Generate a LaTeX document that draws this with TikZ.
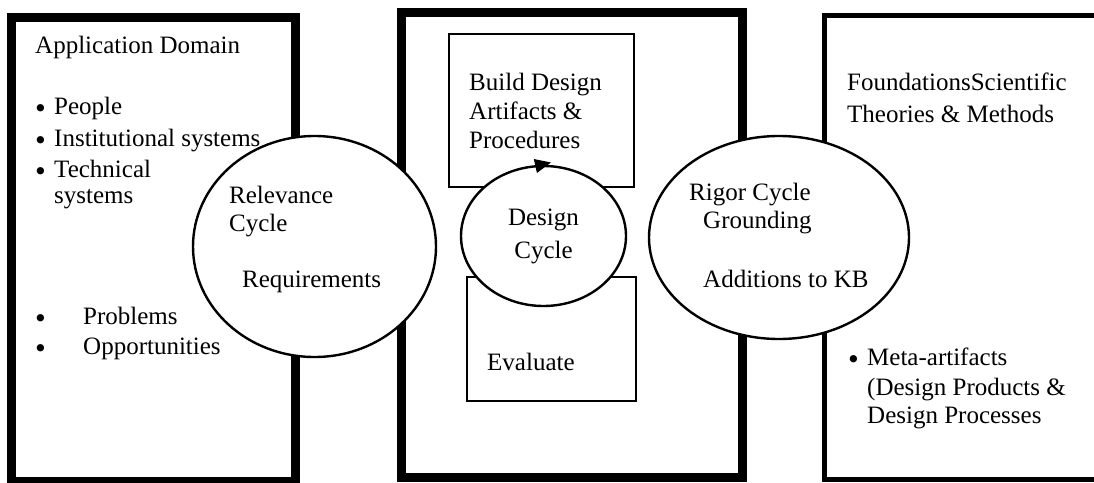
\documentclass[tikz,border=0pt]{standalone}
\usepackage{fontspec}
\setmainfont{Liberation Serif}
\newfontfamily\bulfont{DejaVu Sans}
\usetikzlibrary{shapes.geometric,arrows.meta}
\newcommand{\bulletmark}{\smash{\raisebox{-3pt}{\bulfont •}}}
\newcommand{\bulleted}[2]{\makebox[#1][l]{\bulletmark}#2}
\begin{document}
\begin{tikzpicture}[x=1pt,y=-1pt,
  smallbox/.style={draw,rectangle,line width=2pt,inner sep=0},
  cyc/.style={draw,ellipse,fill=white,line width=2.4pt,inner sep=0},
  txt/.style={anchor=base west,inner sep=0,font=\fontsize{25}{29}\selectfont},
  ctxt/.style={anchor=base,inner sep=0,font=\fontsize{25}{29}\selectfont}]
\useasboundingbox (0,0) rectangle (1094,482);
\clip (0,0) rectangle (1094,482);
% big boxes
\node[draw,rectangle,line width=9pt,inner sep=0,minimum width=283.5pt,minimum height=464pt] (appbox) at (153.25,249) {};
\node[draw,rectangle,line width=9pt,inner sep=0,minimum width=341.5pt,minimum height=465pt] (midbox) at (571.75,245) {};
\node[draw,rectangle,line width=5pt,inner sep=0,minimum width=300pt,minimum height=464.5pt] (kbbox) at (974.5,247.25) {};
% small boxes
\node[smallbox,minimum width=185pt,minimum height=153pt] (buildbox) at (541.5,110.5) {};
\node[smallbox,minimum width=169pt,minimum height=124pt] (evalbox) at (551.5,339) {};
% ellipses
\node[cyc,minimum width=243pt,minimum height=221pt] (rel) at (314.5,246.5) {};
\node[cyc,minimum width=165pt,minimum height=140pt] (des) at (543.5,236) {};
\node[cyc,minimum width=260pt,minimum height=203pt] (rig) at (779,237.5) {};
% arrow on design cycle
\coordinate (arrS) at (533,166.5);
\coordinate (arrT) at (551,162.5);
\draw[line width=1pt,-{Triangle[length=16pt,width=14pt]}] (arrS) -- (arrT);
% left texts
\node[txt] (t1) at (35,53) {Application Domain};
\node[txt] (t2) at (33,114) {\bulleted{21pt}{People}};
\node[txt] (t3) at (33,146) {\bulleted{21pt}{Institutional systems}};
\node[txt] (t4) at (33,177) {\bulleted{21pt}{Technical}};
\node[txt] (t5) at (54,203) {systems};
\node[txt] (t6) at (33,324) {\bulleted{50pt}{Problems}};
\node[txt] (t7) at (33,354) {\bulleted{50pt}{Opportunities}};
% relevance
\node[txt] (r1) at (229,203) {Relevance};
\node[txt] (r2) at (229,231) {Cycle};
\node[txt] (r3) at (242,287) {Requirements};
% middle
\node[txt] (m1) at (469,90) {Build Design};
\node[txt] (m2) at (469,119) {Artifacts \&};
\node[txt] (m3) at (469,148) {Procedures};
\node[ctxt] (d1) at (543.5,225) {Design};
\node[ctxt] (d2) at (543.5,258) {Cycle};
\node[txt] (e1) at (487,370) {Evaluate};
% rigor
\node[txt] (g1) at (689,200) {Rigor Cycle};
\node[txt] (g2) at (703,228) {Grounding};
\node[txt] (g3) at (703,287) {Additions to KB};
% right
\node[txt] (f1) at (847,90) {FoundationsScientific};
\node[txt] (f2) at (847,122) {Theories \& Methods};
\node[txt] (f3) at (846,365) {\bulleted{21pt}{Meta-artifacts}};
\node[txt] (f4) at (867,395) {(Design Products \&};
\node[txt] (f5) at (867,423) {Design Processes};
\end{tikzpicture}
\end{document}
